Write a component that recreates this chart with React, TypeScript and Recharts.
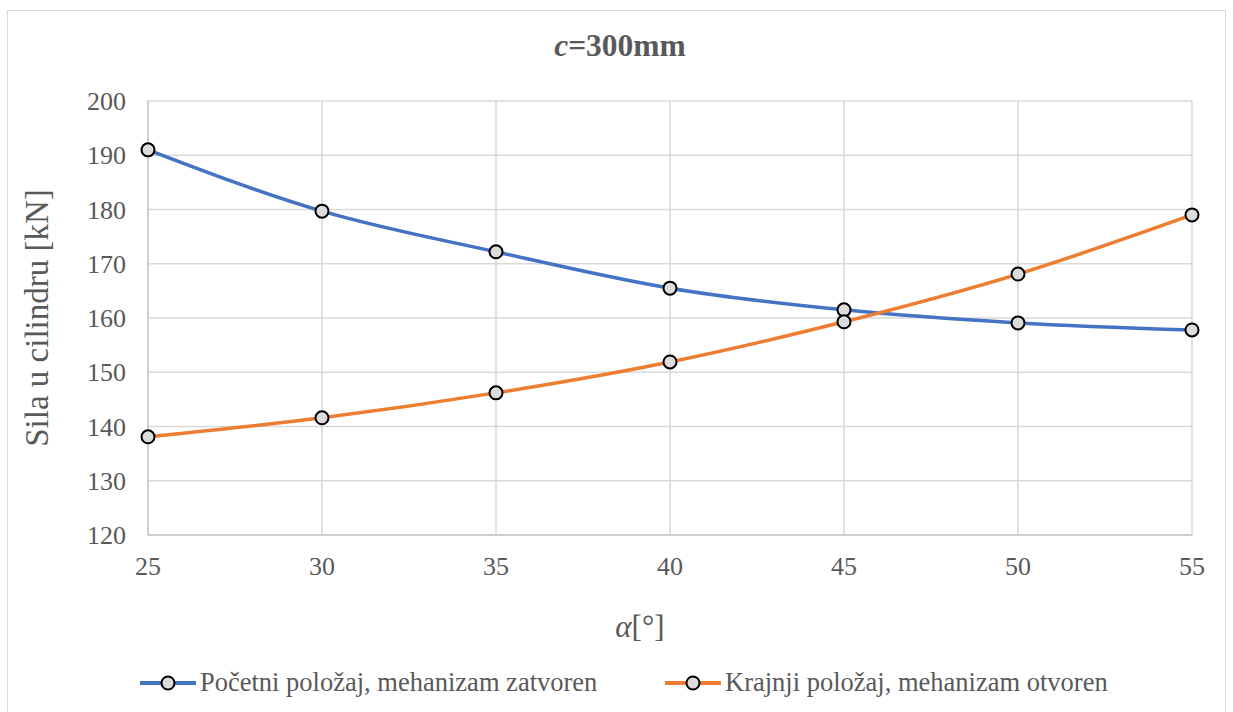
import { LineChart, Line, XAxis, YAxis, CartesianGrid } from 'recharts'

const angles = [25, 30, 35, 40, 45, 50, 55]
const pocetni = [191.0, 179.7, 172.2, 165.5, 161.5, 159.1, 157.8]
const krajnji = [138.1, 141.6, 146.2, 151.9, 159.3, 168.1, 179.0]
const yTicks = [120, 130, 140, 150, 160, 170, 180, 190, 200]

const seriesNames = ['Početni položaj, mehanizam zatvoren', 'Krajnji položaj, mehanizam otvoren']
const BLUE = '#4472C4'
const ORANGE = '#ED7D31'
const TEXT = '#595959'
const FONT = 'Liberation Serif'

const data = angles.map((a, i) => ({ alpha: a, pocetni: pocetni[i], krajnji: krajnji[i] }))

const dot = { r: 6.5, fill: '#dcdcdc', stroke: '#000', strokeWidth: 2 }

const LegendIcon = ({ color }: { color: string }) => (
  <svg width={56} height={20} style={{ marginRight: 4 }}>
    <line x1={0} y1={10} x2={56} y2={10} stroke={color} strokeWidth={4} />
    <circle cx={28} cy={10} r={6.5} fill="#dcdcdc" stroke="#000" strokeWidth={2} />
  </svg>
)

export default function App() {
  return (
    <div style={{ position: 'fixed', left: 0, top: 0, width: 1233, height: 712, overflow: 'hidden', background: '#fff', fontFamily: FONT }}>
      {/* chart frame */}
      <div style={{ position: 'absolute', left: 7, top: 10, width: 1217, height: 720, border: '1.5px solid #d9d9d9' }} />

      <div style={{ position: 'absolute', left: 0, top: 28, width: 1240, textAlign: 'center', fontSize: 31.5, fontWeight: 'bold', color: TEXT, fontFamily: FONT }}>
        <i>c</i>=300mm
      </div>

      <div style={{ position: 'absolute', left: 0, top: 0 }}>
        <LineChart width={1233} height={712} data={data} margin={{ top: 101, right: 41, left: 88, bottom: 117 }} style={{ fontFamily: FONT }}>
          <CartesianGrid stroke="#d9d9d9" strokeWidth={1.5} />
          <XAxis
            dataKey="alpha"
            type="number"
            domain={[25, 55]}
            ticks={angles}
            height={60}
            tickSize={0}
            tickMargin={22}
            axisLine={{ stroke: '#c8c8c8', strokeWidth: 1.5 }}
            tick={{ fontSize: 26, fill: TEXT, fontFamily: FONT }}
            label={{
              content: () => (
                <text x={640} y={626} textAnchor="middle" dominantBaseline="central" fill={TEXT} fontSize={31} fontFamily={FONT}>
                  <tspan fontStyle="italic">α</tspan>[°]
                </text>
              ),
            }}
          />
          <YAxis
            type="number"
            domain={[120, 200]}
            ticks={yTicks}
            width={60}
            tickSize={0}
            tickMargin={22}
            axisLine={{ stroke: '#c8c8c8', strokeWidth: 1.5 }}
            tick={{ fontSize: 26, fill: TEXT, fontFamily: FONT }}
            label={{
              content: () => (
                <text x={37} y={318} transform="rotate(-90 37 318)" textAnchor="middle" dominantBaseline="central" fill={TEXT} fontSize={33} fontFamily={FONT}>
                  Sila u cilindru [kN]
                </text>
              ),
            }}
          />
          <Line type="monotone" dataKey="pocetni" name={seriesNames[0]} stroke={BLUE} strokeWidth={3.5} dot={dot} isAnimationActive={false} />
          <Line type="monotone" dataKey="krajnji" name={seriesNames[1]} stroke={ORANGE} strokeWidth={3.5} dot={dot} isAnimationActive={false} />
        </LineChart>
      </div>

      <div style={{ position: 'absolute', left: 140, top: 667, display: 'flex', alignItems: 'center', fontSize: 26.5, color: TEXT, whiteSpace: 'nowrap', fontFamily: FONT }}>
        <LegendIcon color={BLUE} />
        <span>{seriesNames[0]}</span>
      </div>
      <div style={{ position: 'absolute', left: 665, top: 667, display: 'flex', alignItems: 'center', fontSize: 26.5, color: TEXT, whiteSpace: 'nowrap', fontFamily: FONT }}>
        <LegendIcon color={ORANGE} />
        <span>{seriesNames[1]}</span>
      </div>
    </div>
  )
}
